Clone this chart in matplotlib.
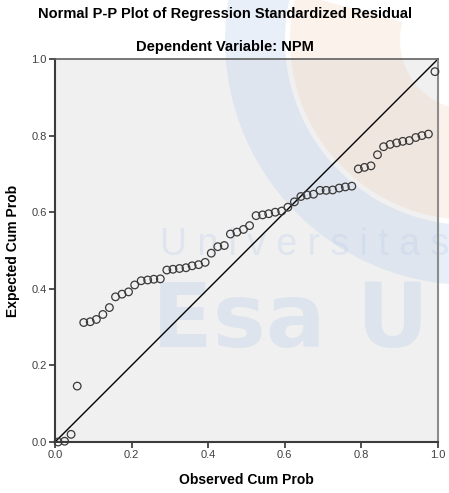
import numpy as np
import matplotlib
matplotlib.use("Agg")
import matplotlib.pyplot as plt
from matplotlib.patches import Wedge, Rectangle

plt.rcParams['font.family'] = ['Liberation Sans', 'DejaVu Sans']

#%% data (60 residuals)
observed_cum_prob = [0.008, 0.025, 0.042, 0.058, 0.075, 0.092, 0.108, 0.125, 0.142, 0.158,
                     0.175, 0.192, 0.208, 0.225, 0.242, 0.258, 0.275, 0.292, 0.308, 0.325,
                     0.342, 0.358, 0.375, 0.392, 0.408, 0.425, 0.442, 0.458, 0.475, 0.492,
                     0.508, 0.525, 0.542, 0.558, 0.575, 0.592, 0.608, 0.625, 0.642, 0.658,
                     0.675, 0.692, 0.708, 0.725, 0.742, 0.758, 0.775, 0.792, 0.808, 0.825,
                     0.842, 0.858, 0.875, 0.892, 0.908, 0.925, 0.942, 0.958, 0.975, 0.992]
expected_cum_prob = [0.000, 0.002, 0.020, 0.146, 0.312, 0.314, 0.320, 0.333, 0.351, 0.379,
                     0.386, 0.392, 0.410, 0.421, 0.423, 0.425, 0.426, 0.449, 0.451, 0.453,
                     0.455, 0.460, 0.463, 0.469, 0.493, 0.510, 0.513, 0.543, 0.548, 0.555,
                     0.565, 0.591, 0.593, 0.596, 0.600, 0.603, 0.613, 0.627, 0.641, 0.645,
                     0.647, 0.657, 0.657, 0.658, 0.663, 0.666, 0.668, 0.713, 0.717, 0.721,
                     0.750, 0.771, 0.777, 0.781, 0.785, 0.787, 0.795, 0.800, 0.804, 0.967]
ticks = [0.0, 0.2, 0.4, 0.6, 0.8, 1.0]
tick_labels = ['0.0', '0.2', '0.4', '0.6', '0.8', '1.0']

#%% figure
fig = plt.figure(figsize=(4.49, 4.93), dpi=100)
rect = [55/449, 51/493, 383/449, 383/493]
ax = fig.add_axes(rect)
ax.set_facecolor('none')

# plot area background drawn on the figure so the watermark can sit between
fig.add_artist(Rectangle((rect[0], rect[1]), rect[2], rect[3], transform=fig.transFigure,
                         facecolor='#f0f0f0', edgecolor='none', zorder=-3))

ax.plot([0, 1], [0, 1], color='black', linewidth=1.0, zorder=2)
ax.scatter(observed_cum_prob, expected_cum_prob, s=30, facecolors='none',
           edgecolors='#3a3a3a', linewidths=0.9, zorder=3, clip_on=False)

ax.set_xlim(0, 1)
ax.set_ylim(0, 1)
ax.set_xticks(ticks)
ax.set_xticklabels(tick_labels)
ax.set_yticks(ticks)
ax.set_yticklabels(tick_labels)
ax.tick_params(direction='out', length=4, width=1.2, color='#333333',
               labelsize=8, labelcolor='#404040', pad=2)
for side in ['left', 'bottom']:
    ax.spines[side].set_linewidth(1.5)
    ax.spines[side].set_color('#3c3c3c')
ax.spines['top'].set_linewidth(1.2)
ax.spines['top'].set_color('#606060')
ax.spines['right'].set_linewidth(1.5)
ax.spines['right'].set_color('#8c8c8c')

ax.set_xlabel('Observed Cum Prob', fontsize=10, fontweight='bold', labelpad=9)
ax.set_ylabel('Expected Cum Prob', fontsize=10, fontweight='bold', labelpad=8)

fig.text(225/449, 1 - 14/493, 'Normal P-P Plot of Regression Standardized Residual',
         ha='center', va='center', fontsize=10.5, fontweight='bold')
fig.text(225/449, 1 - 47/493, 'Dependent Variable: NPM',
         ha='center', va='center', fontsize=10.5, fontweight='bold')

#%% faint watermark (behind the marks)
centre = (4.70, 4.53)  # inches from bottom-left
fig.add_artist(Wedge(centre, 2.45, 165, 268, width=0.6, transform=fig.dpi_scale_trans,
                     facecolor='#b8cdea', edgecolor='none', alpha=0.3, zorder=-2))
fig.add_artist(Wedge(centre, 1.80, 165, 285, width=1.1, transform=fig.dpi_scale_trans,
                     facecolor='#f0bea0', edgecolor='none', alpha=0.2, zorder=-2))
fig.text(160/449, 1 - 245/493, 'U n i v e r s i t a s', fontsize=27, color='#b8cdea',
         alpha=0.3, va='center', ha='left', zorder=-1)
fig.text(152/449, 1 - 322/493, 'Esa U', fontsize=64, fontweight='bold', color='#b8cdea',
         alpha=0.32, va='center', ha='left', zorder=-1, family='DejaVu Sans')

fig.savefig('out.png', dpi=100)
